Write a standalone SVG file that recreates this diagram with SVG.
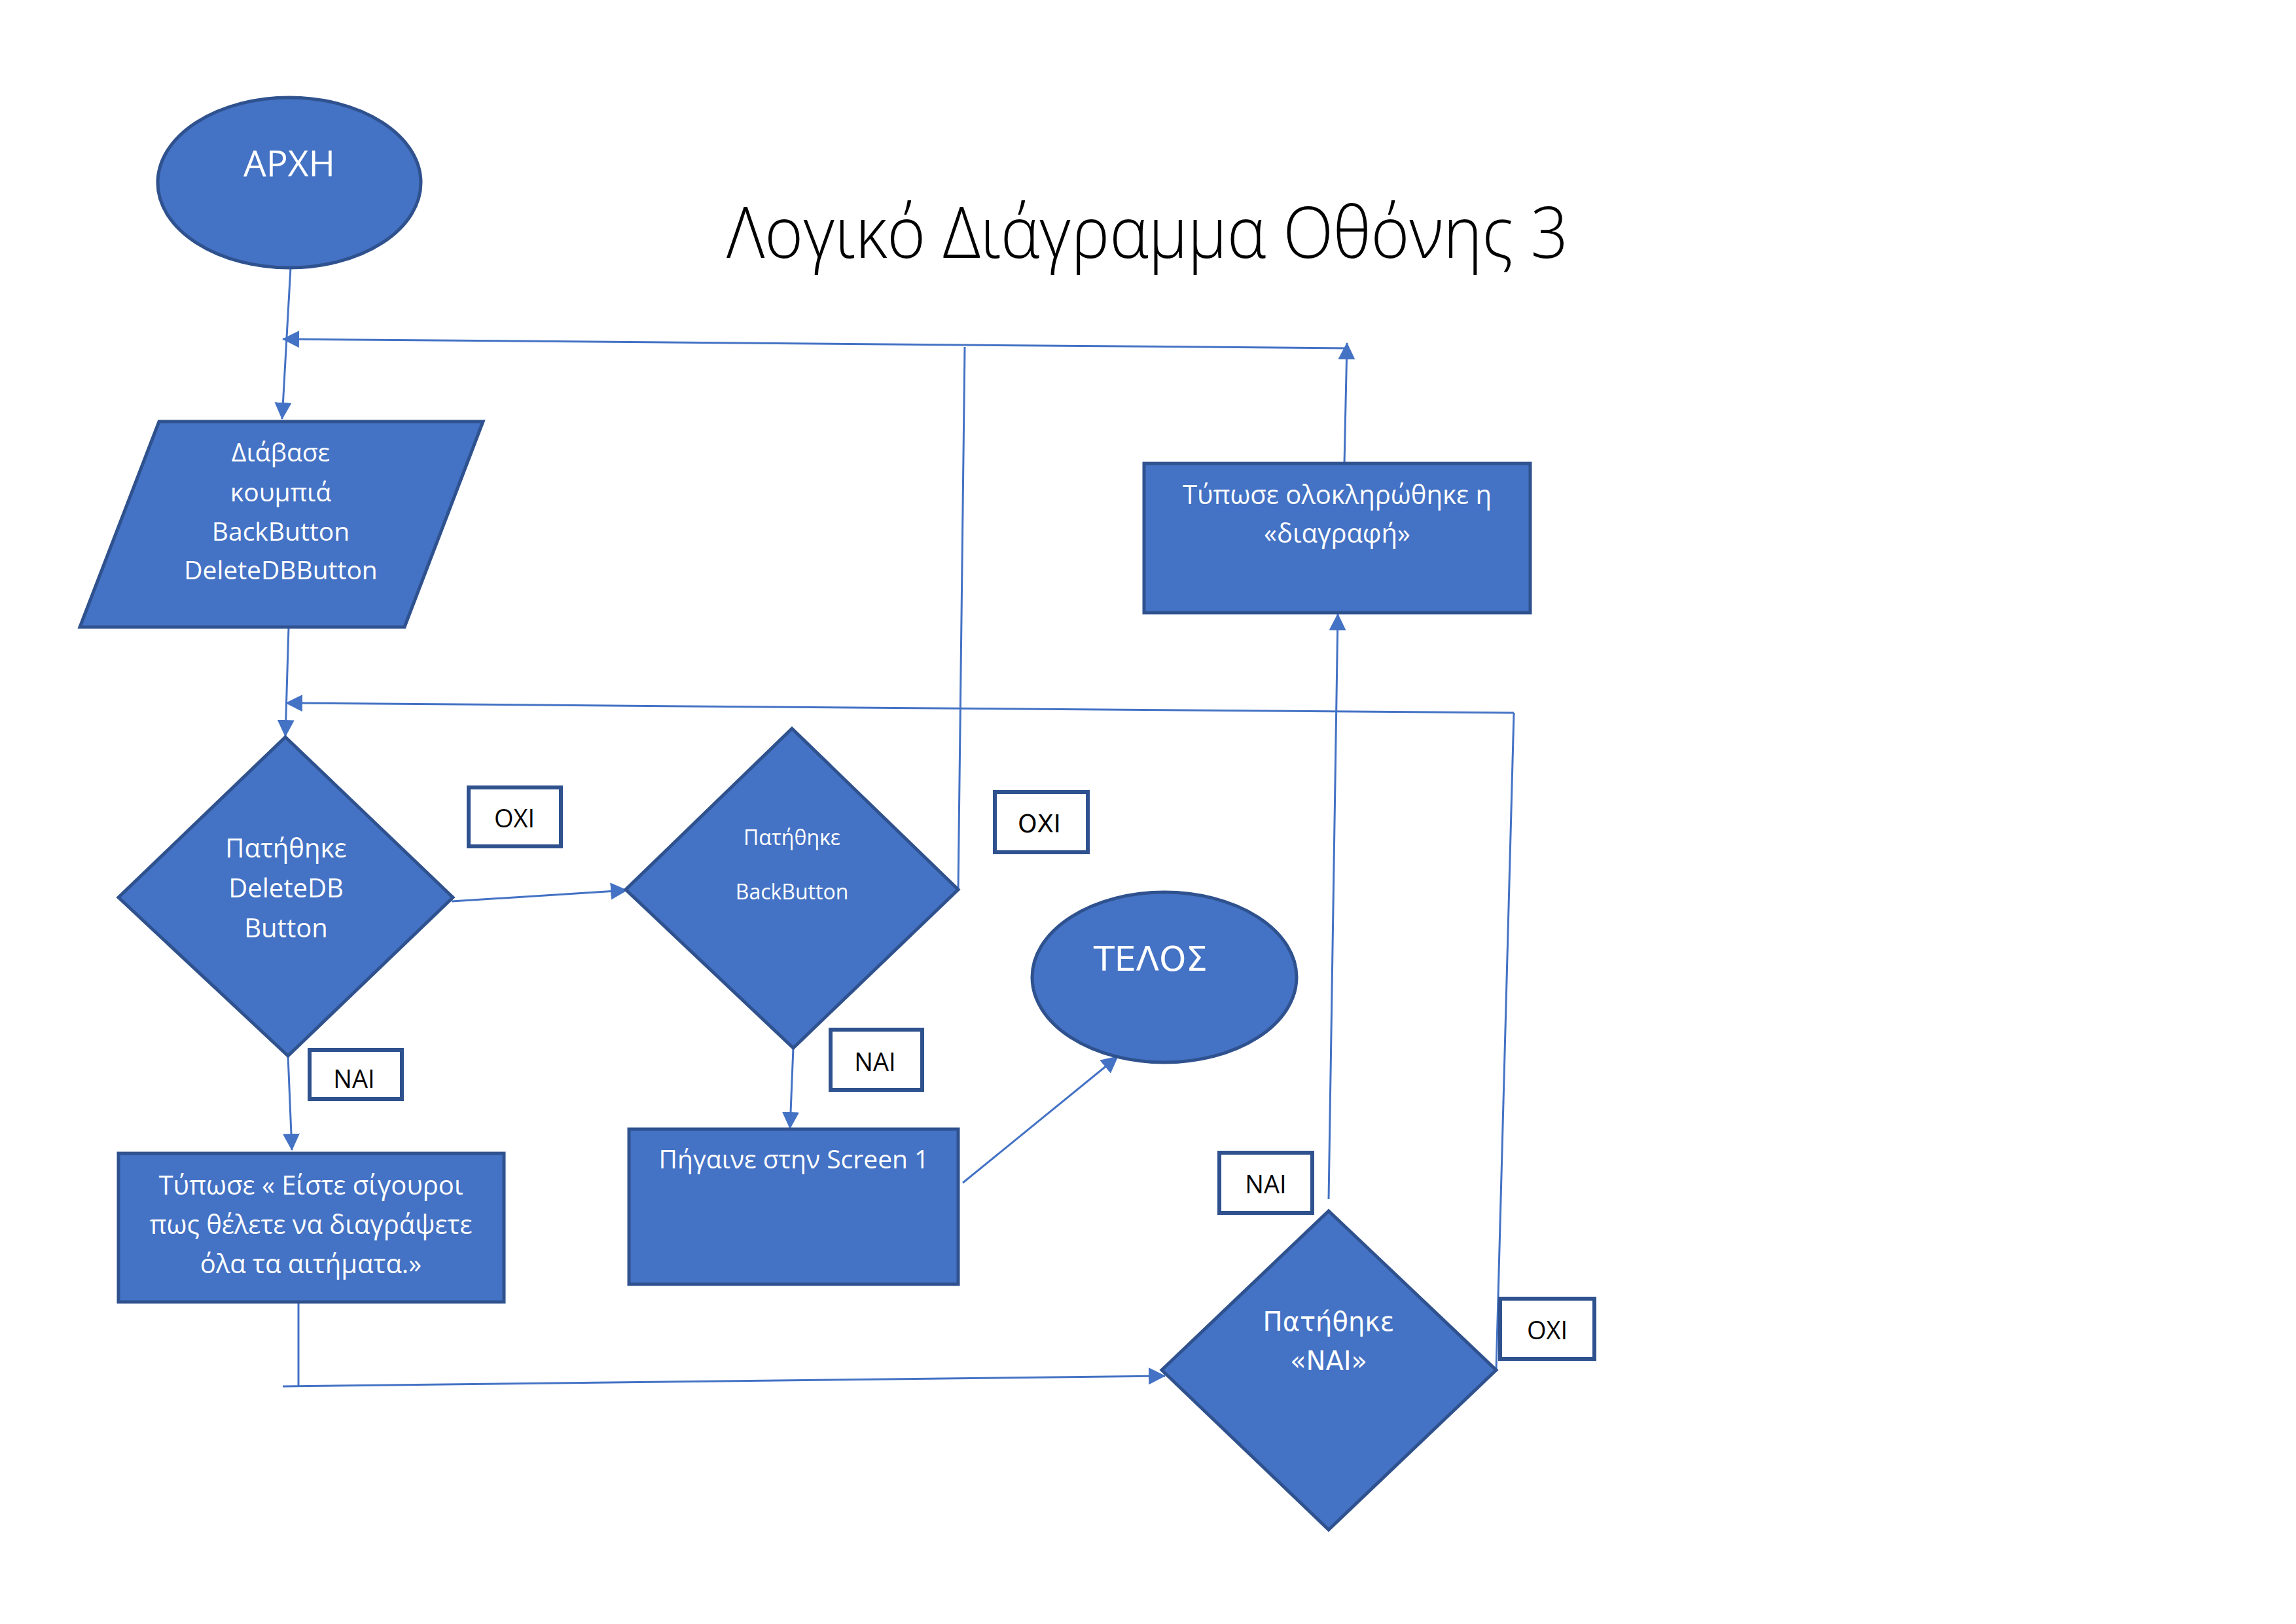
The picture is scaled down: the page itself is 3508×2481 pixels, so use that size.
<svg xmlns="http://www.w3.org/2000/svg" width="3508" height="2481" viewBox="0 0 3508 2481">
<style>
.shape{fill:#4472C4;stroke:#2F528F;stroke-width:5}
.lbl{fill:#FFFFFF;stroke:#2F528F;stroke-width:6}
.con{fill:none;stroke:#4472C4;stroke-width:3}
.wt{fill:#FFFFFF;font-family:"Open Sans","Noto Sans","DejaVu Sans",sans-serif;text-anchor:middle}
.wv{fill:#FFFFFF;font-family:"DejaVu Sans","Noto Sans",sans-serif;text-anchor:middle}
.bt{fill:#000000;font-family:"Open Sans","Noto Sans","DejaVu Sans",sans-serif;text-anchor:middle}
.bv{fill:#000000;font-family:"DejaVu Sans","Noto Sans",sans-serif;text-anchor:middle}
</style>
<defs>
<marker id="ah" markerUnits="userSpaceOnUse" markerWidth="26" markerHeight="26" refX="25" refY="13" orient="auto">
<path d="M0,0 L26,13 L0,26 z" fill="#4472C4"/>
</marker>
</defs>
<rect x="0" y="0" width="3508" height="2481" fill="#FFFFFF"/>

<g id="title">
<text x="1110" y="394" font-family="'Open Sans','Noto Sans',sans-serif" font-weight="300" font-size="108" fill="#000000" textLength="1286" lengthAdjust="spacingAndGlyphs">Λογικό Διάγραμμα Οθόνης 3</text>
</g>

<g id="connectors">
<line class="con" x1="444" y1="409" x2="431" y2="640" marker-end="url(#ah)"/>
<line class="con" x1="2054" y1="708" x2="2058" y2="524" marker-end="url(#ah)"/>
<line class="con" x1="2058" y1="532" x2="432" y2="518" marker-end="url(#ah)"/>
<line class="con" x1="1464" y1="1359" x2="1474" y2="530"/>
<line class="con" x1="441" y1="958" x2="436" y2="1125" marker-end="url(#ah)"/>
<line class="con" x1="2286" y1="2093" x2="2313" y2="1089"/>
<line class="con" x1="2313" y1="1089" x2="437" y2="1074" marker-end="url(#ah)"/>
<line class="con" x1="690" y1="1377" x2="958" y2="1360" marker-end="url(#ah)"/>
<line class="con" x1="440" y1="1613" x2="446" y2="1757" marker-end="url(#ah)"/>
<line class="con" x1="1212" y1="1601" x2="1207" y2="1724" marker-end="url(#ah)"/>
<line class="con" x1="1471" y1="1807" x2="1708" y2="1614" marker-end="url(#ah)"/>
<line class="con" x1="456" y1="1989" x2="456" y2="2118"/>
<line class="con" x1="432" y1="2118" x2="1780" y2="2102" marker-end="url(#ah)"/>
<line class="con" x1="2030" y1="1832" x2="2044" y2="938" marker-end="url(#ah)"/>
</g>

<g id="start">
<ellipse class="shape" cx="442" cy="279" rx="201" ry="130"/>
<text class="wt" x="442" y="269" font-size="55">ΑΡΧΗ</text>
</g>

<g id="read-buttons">
<polygon class="shape" points="243,644 738,644 618,958 122,958"/>
<text class="wt" x="429" y="705" font-size="39">Διάβασε</text>
<text class="wt" x="429" y="766" font-size="39">κουμπιά</text>
<text class="wt" x="429" y="826" font-size="39">BackButton</text>
<text class="wt" x="429" y="885" font-size="39">DeleteDBButton</text>
</g>

<g id="decision-deletedb">
<polygon class="shape" points="436,1126 692,1371 440,1613 181,1371"/>
<text class="wt" x="437" y="1310" font-size="40">Πατήθηκε</text>
<text class="wt" x="437" y="1371" font-size="40">DeleteDB</text>
<text class="wt" x="437" y="1432" font-size="40">Button</text>
</g>

<g id="decision-backbutton">
<polygon class="shape" points="1210,1113 1464,1359 1212,1601 956,1359"/>
<text class="wt" x="1210" y="1291" font-size="32">Πατήθηκε</text>
<text class="wt" x="1210" y="1374" font-size="32">BackButton</text>
</g>

<g id="print-confirm">
<rect class="shape" x="181" y="1762" width="589" height="227"/>
<text class="wt" x="475" y="1825" font-size="40">Τύπωσε « Είστε σίγουροι</text>
<text class="wt" x="475" y="1885" font-size="40">πως θέλετε να διαγράψετε</text>
<text class="wt" x="475" y="1945" font-size="40">όλα τα αιτήματα.»</text>
</g>

<g id="goto-screen1">
<rect class="shape" x="961" y="1725" width="503" height="237"/>
<text class="wt" x="1213" y="1785" font-size="39">Πήγαινε στην Screen 1</text>
</g>

<g id="end">
<ellipse class="shape" cx="1779" cy="1493" rx="202" ry="130"/>
<text class="wv" x="1758" y="1483" font-size="52">ΤΕΛΟΣ</text>
</g>

<g id="decision-nai">
<polygon class="shape" points="2030,1850 2286,2093 2030,2337 1775,2093"/>
<text class="wv" x="2030" y="2033" font-size="40">Πατήθηκε</text>
<text class="wv" x="2030" y="2093" font-size="40">«ΝΑΙ»</text>
</g>

<g id="print-deleted">
<rect class="shape" x="1748" y="708" width="590" height="228"/>
<text class="wt" x="2043" y="770" font-size="40">Τύπωσε ολοκληρώθηκε η</text>
<text class="wt" x="2043" y="829" font-size="40">«διαγραφή»</text>
</g>

<g id="label-oxi-1">
<rect class="lbl" x="716" y="1203" width="141" height="90"/>
<text class="bt" x="786" y="1264" font-size="38">ΟΧΙ</text>
</g>
<g id="label-oxi-2">
<rect class="lbl" x="1520" y="1210" width="142" height="92"/>
<text class="bv" x="1588" y="1271" font-size="37">ΟΧΙ</text>
</g>
<g id="label-oxi-3">
<rect class="lbl" x="2292" y="1984" width="144" height="92"/>
<text class="bt" x="2364" y="2046" font-size="38">ΟΧΙ</text>
</g>
<g id="label-nai-1">
<rect class="lbl" x="473" y="1604" width="141" height="75"/>
<text class="bt" x="541" y="1662" font-size="38">ΝΑΙ</text>
</g>
<g id="label-nai-2">
<rect class="lbl" x="1269" y="1573" width="140" height="92"/>
<text class="bt" x="1337" y="1636" font-size="38">ΝΑΙ</text>
</g>
<g id="label-nai-3">
<rect class="lbl" x="1863" y="1761" width="142" height="92"/>
<text class="bt" x="1934" y="1823" font-size="38">ΝΑΙ</text>
</g>
</svg>
